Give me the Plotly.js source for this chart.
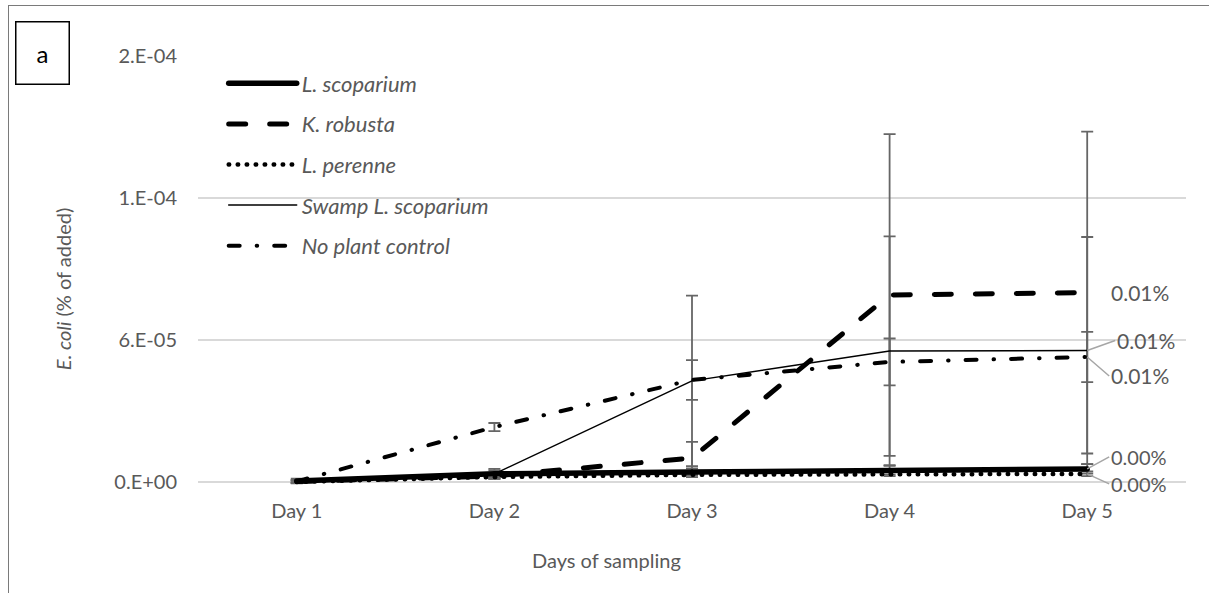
<!DOCTYPE html>
<html>
<head>
<meta charset="utf-8">
<script src="https://cdn.plot.ly/plotly-3.0.1.min.js"></script>
<style>
  html, body { margin: 0; padding: 0; background: #fff; }
  #chart { width: 1209px; height: 593px; position: relative; }
  #frame { position: absolute; left: 8px; top: 5px; width: 1220px; height: 620px;
           border: 1.5px solid #7a7a7a; box-sizing: border-box; pointer-events: none; }
  /* rounded ends on dashes and dots */
  .scatterlayer path.js-line, .legend path.js-line { stroke-linecap: round; stroke-linejoin: round; }
</style>
</head>
<body>
<div id="chart"></div>
<div id="frame"></div>
<script>
// Sampling days (categories)
const days = ['Day 1', 'Day 2', 'Day 3', 'Day 4', 'Day 5'];

// Y axis ticks (Excel-style scientific labels)
const yTickVals = [0, 6e-5, 1.2e-4, 1.8e-4];
const yTickText = ['0.E+00', '6.E-05', '1.E-04', '2.E-04'];

// E. coli recovered (% of added), mean and error per day
const lScoparium      = [4e-7, 3.4e-6, 4.2e-6, 5.1e-6, 5.5e-6];
const lScopariumErr   = [1.0e-6, 1.5e-6, 1.5e-6, 2.0e-6, 2.0e-6];

const kRobusta        = [2e-7, 2.5e-6, 1.01e-5, 7.9e-5, 8.0e-5];
const kRobustaErr     = [5e-7, 1.0e-6, 6.8e-6, 6.8e-5, 6.8e-5];

const lPerenne        = [0, 2.1e-6, 3.0e-6, 3.4e-6, 3.4e-6];
const lPerenneErr     = [5e-7, 8e-7, 1.0e-6, 1.0e-6, 1.0e-6];

const swampScoparium  = [2e-7, 3.4e-6, 4.27e-5, 5.53e-5, 5.55e-5];
const swampScopariumErr = [5e-7, 2.1e-6, 3.6e-5, 4.85e-5, 4.8e-5];

const noPlant         = [2e-7, 2.32e-5, 4.31e-5, 5.07e-5, 5.28e-5];
const noPlantErr      = [5e-7, 1.7e-6, 8.4e-6, 9.9e-6, 1.06e-5];

const seriesNames = ['L. scoparium', 'K. robusta', 'L. perenne', 'Swamp L. scoparium', 'No plant control'];

const FONT = 'Lato, "Open Sans", sans-serif';
const GREY_TEXT = '#595959';

const series = [
  { name: seriesNames[0], y: lScoparium,     err: lScopariumErr,     line: { color: '#000', width: 5.5 } },
  { name: seriesNames[1], y: kRobusta,       err: kRobustaErr,       line: { color: '#000', width: 5, dash: '17px,24px' } },
  { name: seriesNames[2], y: lPerenne,       err: lPerenneErr,       line: { color: '#000', width: 4.5, dash: '0.5px,8.5px' } },
  { name: seriesNames[3], y: swampScoparium, err: swampScopariumErr, line: { color: '#000', width: 1.5 } },
  { name: seriesNames[4], y: noPlant,        err: noPlantErr,        line: { color: '#000', width: 4, dash: '11px,17px,0.5px,17px' } }
];

// Error bars first so the series lines sit on top of them
const errorTraces = series.map(s => ({
  type: 'scatter', mode: 'markers', x: days, y: s.y,
  marker: { size: 2, opacity: 0 },
  error_y: { type: 'data', array: s.err, visible: true, color: '#666666', thickness: 1.8, width: 6 },
  showlegend: false, hoverinfo: 'skip'
}));

const lineTraces = series.map((s, i) => ({
  type: 'scatter', mode: 'lines', x: days, y: s.y, name: s.name,
  line: s.line, legendgroup: 'g' + i
}));

const pct = v => (v * 100).toFixed(2) + '%';
const last = arr => arr[arr.length - 1];
const lastDay = days[days.length - 1];

// End-of-series value labels
const labelFont = { family: FONT, size: 21, color: GREY_TEXT };
const smallLabelFont = { family: FONT, size: 20, color: GREY_TEXT };
const leader = { showarrow: true, arrowhead: 0, arrowwidth: 1.5, arrowcolor: '#a6a6a6', standoff: 0, xanchor: 'left' };
const valueLabels = [
  { x: lastDay, y: last(kRobusta), text: pct(last(kRobusta)), showarrow: false, xanchor: 'left', xshift: 22, font: labelFont },
  Object.assign({ x: lastDay, y: last(swampScoparium), text: pct(last(swampScoparium)), ax: 28, ay: -10, font: labelFont }, leader),
  Object.assign({ x: lastDay, y: last(noPlant), text: pct(last(noPlant)), ax: 22, ay: 19, font: labelFont }, leader),
  Object.assign({ x: lastDay, y: last(lScoparium), text: pct(last(lScoparium)), ax: 22, ay: -12, font: smallLabelFont }, leader),
  Object.assign({ x: lastDay, y: last(lPerenne), text: pct(last(lPerenne)), ax: 22, ay: 10, font: smallLabelFont }, leader)
];

const layout = {
  width: 1209, height: 593,
  margin: { l: 198, r: 23, t: 56, b: 104 },
  paper_bgcolor: '#fff', plot_bgcolor: '#fff',
  font: { family: FONT, size: 20, color: GREY_TEXT },
  showlegend: true,
  legend: {
    x: 0.026, xanchor: 'left', y: 0.985, yanchor: 'top',
    bgcolor: 'rgba(0,0,0,0)', borderwidth: 0,
    itemwidth: 68, tracegroupgap: 9,
    font: { family: FONT, size: 22, color: GREY_TEXT, style: 'italic' }
  },
  xaxis: {
    type: 'category', range: [-0.5, 4.5],
    showgrid: false, zeroline: false, showline: false,
    ticks: '', ticklabelstandoff: 8,
    tickfont: { family: FONT, size: 20, color: GREY_TEXT }
  },
  yaxis: {
    range: [-3e-6, 1.8e-4],
    tickvals: yTickVals, ticktext: yTickText,
    showgrid: true, gridcolor: '#d9d9d9', gridwidth: 1.5,
    zeroline: false, showline: false, ticks: '', ticklabelstandoff: 20,
    tickfont: { family: FONT, size: 20, color: GREY_TEXT }
  },
  annotations: valueLabels.concat([
    { xref: 'paper', yref: 'paper', x: 0.336, y: -0.165, xanchor: 'left', yanchor: 'middle',
      text: 'Days of sampling', showarrow: false, font: { family: FONT, size: 20, color: GREY_TEXT } },
    { xref: 'paper', yref: 'paper', x: -0.1366, y: 0.27, xanchor: 'center', yanchor: 'bottom',
      textangle: -90, text: '<i>E. coli</i> (% of added)', showarrow: false,
      font: { family: FONT, size: 20, color: GREY_TEXT } },
    { xref: 'paper', yref: 'paper', x: -0.1569, y: 1.0058, xanchor: 'center', yanchor: 'middle',
      text: 'a', showarrow: false, width: 50, height: 59, borderpad: 1,
      bordercolor: '#000', borderwidth: 1.5, font: { family: FONT, size: 24, color: '#000' } }
  ])
};

Plotly.newPlot('chart', errorTraces.concat(lineTraces), layout, { staticPlot: true, displayModeBar: false });
</script>
</body>
</html>
